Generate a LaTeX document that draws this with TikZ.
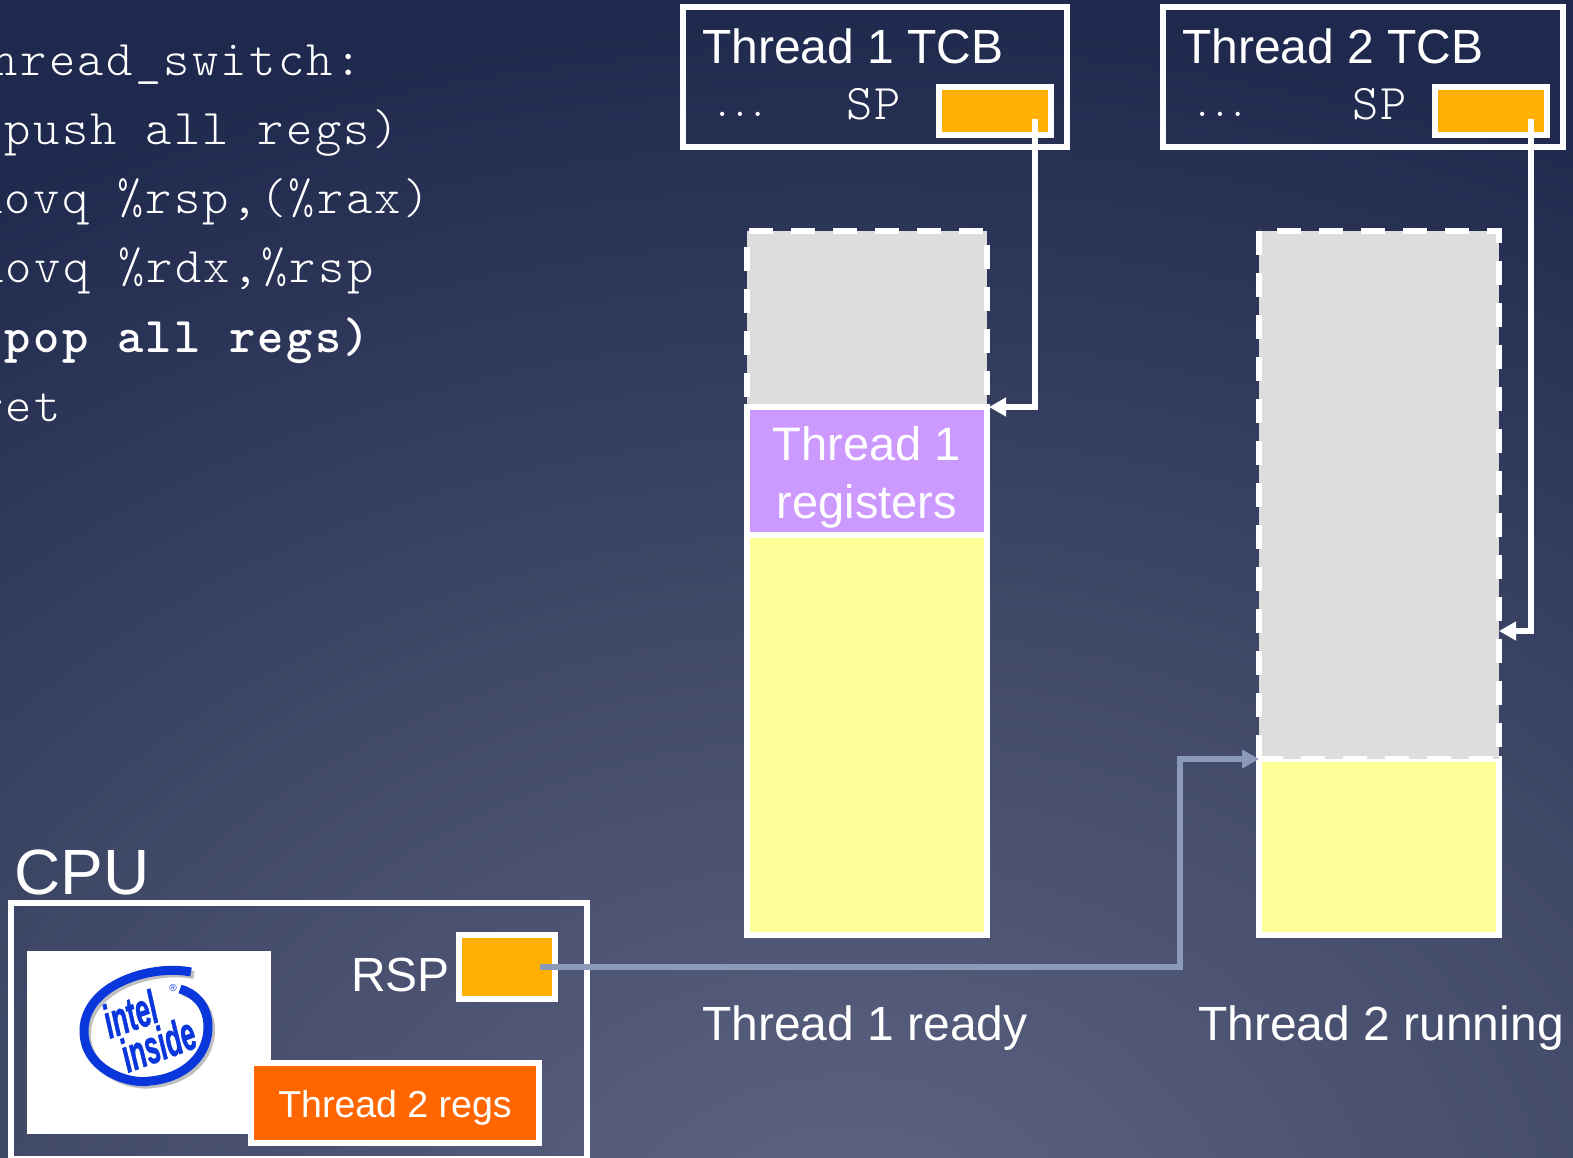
\documentclass[tikz,border=0pt]{standalone}
\usepackage{fontspec}
\usetikzlibrary{arrows.meta,calc}
\setmainfont{Liberation Sans}
\newfontfamily\codefont[LetterSpace=4.8]{Latin Modern Mono Light}
\newfontfamily\logofont[FakeBold=1.5]{Liberation Sans Bold Italic}
\definecolor{c0}{RGB}{95,100,130}
\definecolor{c1}{RGB}{64,72,104}
\definecolor{c2}{RGB}{31,41,77}
\definecolor{amber}{RGB}{255,176,0}
\definecolor{stackgray}{RGB}{221,221,221}
\definecolor{stackyellow}{RGB}{255,255,153}
\definecolor{regpurple}{RGB}{204,153,255}
\definecolor{regorange}{RGB}{255,102,0}
\definecolor{linkgray}{RGB}{139,154,184}
\definecolor{intelblue}{RGB}{10,55,220}
\pgfdeclareradialshading{bgrad}{\pgfpoint{0bp}{0bp}}{color(0bp)=(c0); color(13bp)=(c1); color(25bp)=(c2); color(50bp)=(c2)}
\tikzset{
  x=1pt,y=-1pt,
  boxed/.style={draw=white,line width=6pt,outer sep=0pt,inner sep=0pt,minimum width=#1},
  plain/.style={outer sep=0pt,inner sep=0pt,minimum width=#1},
  label48/.style={text=white,inner sep=0pt,anchor=base west,font=\fontsize{48}{48}\selectfont},
  codeline/.style={text=white,inner sep=0pt,anchor=base west,font=\fontsize{50}{50}\codefont},
  codeboldline/.style={text=white,inner sep=0pt,anchor=base west,font=\fontsize{50}{50}\codefont\bfseries},
  dotsline/.style={text=white,inner sep=0pt,anchor=base west,font=\fontsize{31}{31}\codefont\bfseries},
  link/.style={draw=white,line width=6pt,-{Triangle[length=17pt,width=18pt]}},
  graylink/.style={draw=linkgray,line width=6pt,-{Triangle[length=17pt,width=18pt]}},
  dashline/.style={draw=white,line width=6pt,dash pattern=on 24pt off 18pt},
  swirl/.pic={\draw[pic actions] (191,972) .. controls (150,964) and (85,985) .. (84,1030) .. controls (83,1070) and (130,1085) .. (150,1081) .. controls (185,1078) and (209,1055) .. (208,1025) .. controls (207,1005) and (195,993) .. (180,989);}
}
\begin{document}
\begin{tikzpicture}
\clip (0,0) rectangle (1573,1158);
\fill[c2] (0,0) rectangle (1573,1158);
\path[shading=bgrad] (850,1250) ellipse [x radius=1700pt,y radius=1250pt];

% code
\node[codeline] (l1) at (-37,76) {thread\_switch:};
\node[codeline] (l2) at (-24,145) {(push all regs)};
\node[codeline] (l3) at (-24,214) {movq \%rsp,(\%rax)};
\node[codeline] (l4) at (-23,283) {movq \%rdx,\%rsp};
\node[codeboldline] (l5) at (-24,352) {(pop all regs)};
\node[codeline] (l6) at (-23,421) {ret};

% TCBs
\node[boxed=384pt,minimum height=140pt] (tcb1) at (875,77) {};
\node[boxed=400pt,minimum height=140pt] (tcb2) at (1363,77) {};
\node[label48] (tcb1t) at (702,64) {Thread 1 TCB};
\node[label48] (tcb2t) at (1182,64) {Thread 2 TCB};
\node[dotsline] (dots1) at (714,117) {...};
\node[dotsline] (dots2) at (1194,117) {...};
\node[codeline] (sp1t) at (846,120) {SP};
\node[codeline] (sp2t) at (1352,120) {SP};
\node[boxed=112pt,minimum height=48pt,fill=amber] (sp1) at (995,111) {};
\node[boxed=112pt,minimum height=48pt,fill=amber] (sp2) at (1491,111) {};

% stack 1
\node[plain=240pt,minimum height=173pt,fill=stackgray] (gray1) at (867,317.5) {};
\draw[dashline] (749,231) -- (983,231);
\draw[dashline] (747,247) -- (747,397);
\draw[dashline] (987,245) -- (987,395);
\node[boxed=240pt,minimum height=400pt,fill=stackyellow] (yel1) at (867,735) {};
\node[boxed=240pt,minimum height=128pt,fill=regpurple] (reg1) at (867,471) {};
\node[label48,anchor=base,font=\fontsize{47}{47}\selectfont] (reg1a) at (867,460) {Thread 1};
\node[label48,anchor=base,font=\fontsize{47}{47}\selectfont] (reg1b) at (867,518) {registers};

% stack 2
\node[boxed=240pt,minimum height=176pt,fill=stackyellow] (yel2) at (1379,847) {};
\node[plain=240pt,minimum height=528pt,fill=stackgray] (gray2) at (1379,495) {};
\draw[dashline] (gray2.north west) -- (gray2.south west);
\draw[dashline,miter limit=10] (gray2.south west) -- (gray2.south east) -- (gray2.north east) -- (gray2.north west);

% labels
\node[label48] (ready) at (702,1040) {Thread 1 ready};
\node[label48] (running) at (1198,1040) {Thread 2 running};

% CPU
\node[text=white,inner sep=0pt,anchor=base west,font=\fontsize{64}{64}\selectfont] (cpul) at (14,894) {CPU};
\node[boxed=576pt,minimum height=256pt] (cpu) at (299,1031) {};
\node[plain=244pt,minimum height=183pt,fill=white] (logo) at (149,1042.5) {};
\node[label48] (rspl) at (351,991) {RSP};
\node[boxed=96pt,minimum height=64pt,fill=amber] (rsp) at (507,967) {};
\node[boxed=288pt,minimum height=80pt,fill=regorange] (regs2) at (395,1103) {};
\node[text=white,inner sep=0pt,anchor=base,font=\fontsize{37.5}{37.5}\selectfont] (regs2t) at (395,1117) {Thread 2 regs};

% intel logo
\path[draw=black!25,line width=8pt] pic[shift={(3,3)}] {swirl};
\path[draw=intelblue,line width=9pt] pic {swirl};
\node[text=intelblue,inner sep=0pt,rotate=19,xscale=.56,font=\fontsize{47}{47}\logofont] (intel) at (130,1014) {intel};
\node[text=intelblue,inner sep=0pt,rotate=20,xscale=.56,font=\fontsize{47}{47}\logofont] (inside) at (158,1044) {inside};
\node[text=intelblue,inner sep=0pt,font=\fontsize{10}{10}\selectfont] (reg) at (173,988) {®};

% connectors
\draw[link] ([shift={(40,8)}]sp1.center) |- ([shift={(2,0)}]reg1.north east);
\draw[link] ([shift={(40,8)}]sp2.center) |- ([shift={(0,136)}]gray2.east);
\coordinate (bend) at (1180,759);
\draw[graylink] ([shift={(33,0)}]rsp.center) -| (bend) -- (gray2.south west);
\end{tikzpicture}
\end{document}
